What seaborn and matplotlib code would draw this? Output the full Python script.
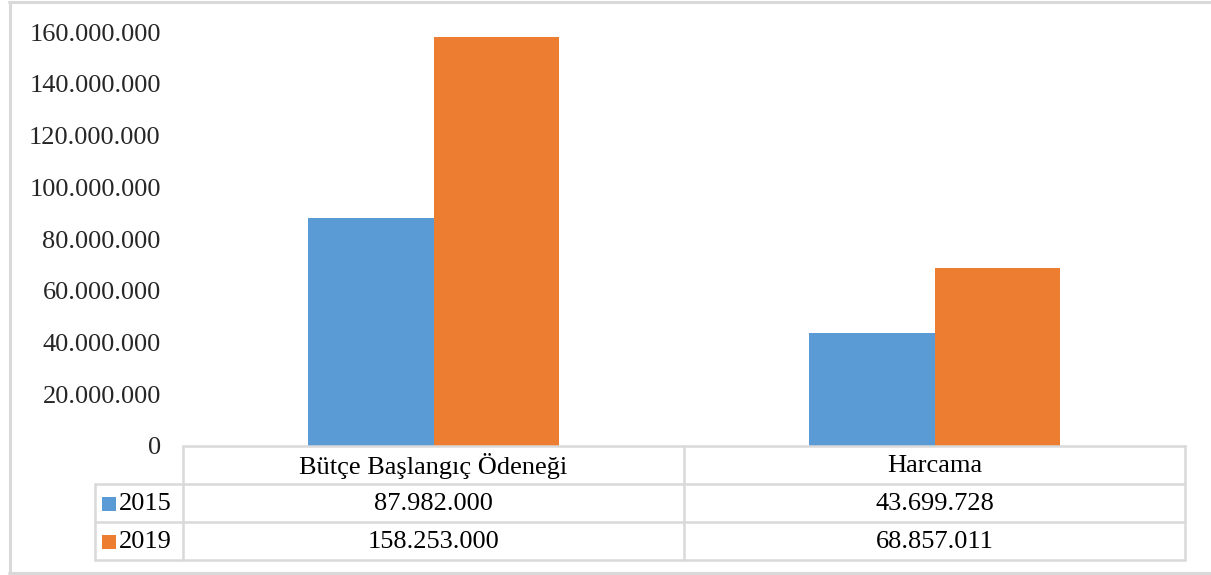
import matplotlib
matplotlib.use("Agg")
import matplotlib.pyplot as plt
import seaborn as sns
import pandas as pd
from matplotlib.lines import Line2D
from matplotlib.patches import Rectangle

categories = ["Bütçe Başlangıç Ödeneği", "Harcama"]
years = ["2015", "2019"]
values_2015 = [87982000, 43699728]
values_2019 = [158253000, 68857011]
ytick_values = [0, 20000000, 40000000, 60000000, 80000000, 100000000, 120000000, 140000000, 160000000]

colors = ["#5B9BD5", "#ED7D31"]
grid_col = "#d9d9d9"

def fmt(v):
    return f"{v:,}".replace(",", ".")

df = pd.DataFrame({
    "category": categories * 2,
    "year": [years[0]] * 2 + [years[1]] * 2,
    "value": values_2015 + values_2019,
})

sns.set_theme(style="white")
plt.rcParams["font.family"] = ["Liberation Serif", "DejaVu Serif"]

W, H = 1211, 575
fig = plt.figure(figsize=(W / 100, H / 100), dpi=100)

def fx(px):
    return px / W

def fy(py):
    return 1 - py / H

# outer border
fig.add_artist(Line2D([fx(9), fx(1211)], [fy(2), fy(2)], color=grid_col, lw=2.2, transform=fig.transFigure))
fig.add_artist(Line2D([fx(9), fx(1211)], [fy(572.5), fy(572.5)], color=grid_col, lw=2.2, transform=fig.transFigure))
fig.add_artist(Line2D([fx(9.5), fx(9.5)], [fy(2), fy(572.5)], color=grid_col, lw=2.2, transform=fig.transFigure))

x0, x1 = 183, 1185
y_top, y_bot = 32, 446
ax = fig.add_axes([fx(x0), fy(y_bot), fx(x1 - x0), (y_bot - y_top) / H])
sns.barplot(data=df, x="category", y="value", hue="year", palette=colors,
            width=0.5, gap=0, linewidth=0, saturation=1, ax=ax, legend=False)
ax.set_ylim(0, 160000000)
ax.set_xlim(-0.5, 1.5)
ax.set_yticks(ytick_values)
ax.set_yticklabels([fmt(v) for v in ytick_values], fontsize=19)
ax.tick_params(axis="y", length=0, pad=16)
ax.set_xticks([])
ax.set_xlabel("")
ax.set_ylabel("")
for s in ax.spines.values():
    s.set_visible(False)

# data table
tx0 = 95
row_y = [446, 484, 522, 560]
col_x = [183, 684, 1185]
lw = 1.8
# horizontal lines
fig.add_artist(Line2D([fx(col_x[0]), fx(col_x[2])], [fy(row_y[0]), fy(row_y[0])], color=grid_col, lw=lw, transform=fig.transFigure))
for yy in row_y[1:]:
    fig.add_artist(Line2D([fx(tx0), fx(col_x[2])], [fy(yy), fy(yy)], color=grid_col, lw=lw, transform=fig.transFigure))
# vertical lines
fig.add_artist(Line2D([fx(tx0), fx(tx0)], [fy(row_y[1]), fy(row_y[3])], color=grid_col, lw=lw, transform=fig.transFigure))
for xx in col_x:
    fig.add_artist(Line2D([fx(xx), fx(xx)], [fy(row_y[0]), fy(row_y[3])], color=grid_col, lw=lw, transform=fig.transFigure))

fs = 19
for j, cat in enumerate(categories):
    cx = (col_x[j] + col_x[j + 1]) / 2
    fig.text(fx(cx), fy((row_y[0] + row_y[1]) / 2 + 1), cat, ha="center", va="center", fontsize=fs, color="#000000")
series = [values_2015, values_2019]
for i, (yr, vals) in enumerate(zip(years, series)):
    cy = (row_y[i + 1] + row_y[i + 2]) / 2 + 1
    fig.add_artist(Rectangle((fx(102), fy(cy + 7)), fx(14), 14 / H, color=colors[i], transform=fig.transFigure, lw=0))
    fig.text(fx(119), fy(cy), yr, ha="left", va="center", fontsize=fs, color="#000000")
    for j, v in enumerate(vals):
        cx = (col_x[j] + col_x[j + 1]) / 2
        fig.text(fx(cx), fy(cy), fmt(v), ha="center", va="center", fontsize=fs, color="#000000")

fig.savefig("out.png", dpi=100)
